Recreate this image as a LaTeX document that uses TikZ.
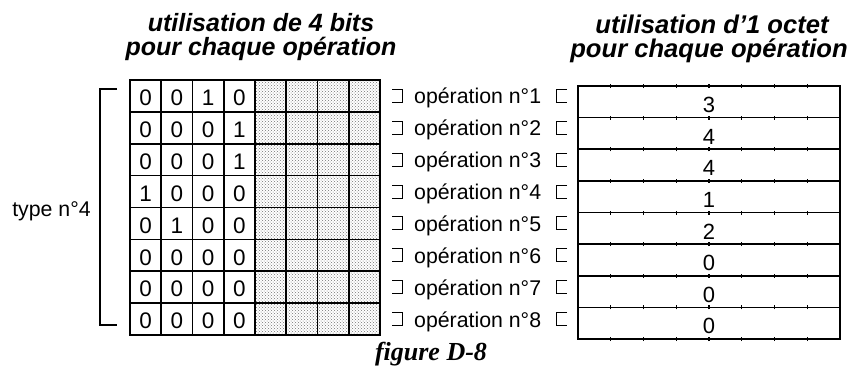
\documentclass[tikz,border=0pt]{standalone}
\usepackage{fontspec}
\usetikzlibrary{patterns}
\setmainfont{Liberation Sans}
\newfontfamily\capfont{Liberation Serif}
\begin{document}
\begin{tikzpicture}[x=1pt,y=-1pt,
  bitcell/.style={draw, line width=1.7pt, outer sep=0pt, inner xsep=0pt, inner ysep=0pt,
    minimum width=31.25pt, minimum height=31.875pt, text height=19.5pt, text depth=0pt,
    font=\fontsize{22.5}{22.5}\selectfont},
  padcell/.style={bitcell, pattern=crosshatch dots, pattern color=black!55},
  bytecell/.style={draw, line width=1.6pt, outer sep=0pt, inner xsep=0pt, inner ysep=0pt,
    minimum width=262pt, minimum height=31.625pt, text height=21.6pt, text depth=0pt,
    font=\fontsize{22}{22}\selectfont},
  tick/.style={line width=1.1pt},
  oplabel/.style={inner sep=0pt, font=\fontsize{21.3}{21.3}\selectfont},
  title/.style={inner sep=0pt, anchor=base, font=\fontsize{25}{25}\selectfont\bfseries\itshape},
  mini/.style={line width=1pt},
  brace/.style={line width=1.3pt}]
\useasboundingbox (0,0) rectangle (856,378);

% headings
\node[title] (t1a) at (261,31) {utilisation de 4 bits};
\node[title] (t1b) at (261,55) {pour chaque opération};
\node[title, font=\fontsize{25.6}{25.6}\selectfont\bfseries\itshape] (t2a) at (712,33) {utilisation d'1 octet};
\node[title, font=\fontsize{25.6}{25.6}\selectfont\bfseries\itshape] (t2b) at (709,57) {pour chaque opération};

% 4-bit grid: used half and unused half
\foreach \r/\bits in {1/{0,0,1,0},2/{0,0,0,1},3/{0,0,0,1},4/{1,0,0,0},
                      5/{0,1,0,0},6/{0,0,0,0},7/{0,0,0,0},8/{0,0,0,0}} {
  \foreach \c in {5,...,8}
    \node[padcell] (b\r-\c) at ({130+31.25*(\c-0.5)},{80+31.875*(\r-0.5)}) {};
  \foreach \b [count=\c] in \bits
    \node[bitcell] (b\r-\c) at ({130+31.25*(\c-0.5)},{80+31.875*(\r-0.5)}) {\b};
}

% operation labels with their small markers
\foreach \r in {1,...,8} {
  \pgfmathsetmacro{\rc}{80+31.875*(\r-0.5)}
  \node[oplabel, anchor=base west] (l\r) at (414,\rc+8) {opération n°\r};
  \draw[mini] (392,\rc-6.5) -| (402,\rc+6.5) -- (392,\rc+6.5);
  \draw[mini] (567,\rc-6.5) -| (556,\rc+6.5) -- (567,\rc+6.5);
}

% one byte per operation
\foreach \v [count=\r] in {3,4,4,1,2,0,0,0}
  \node[bytecell] (o\r) at (709,{86+31.625*(\r-0.5)}) {\v};
\foreach \r in {1,...,8}
  \foreach \k in {1,...,7}
    \draw[tick] ([xshift=\k*32.75pt,yshift=-2pt]o\r.north west) -- ++(0,-4);
\foreach \k in {1,...,7}
  \draw[tick] ([xshift=\k*32.75pt,yshift=-2pt]o8.south west) -- ++(0,-4);

% type bracket
\draw[brace] (117,89) -- (100,89) -- (100,325) -- (117,325);
\node[oplabel] (type) at (51.5,211) {type n°4};

% caption
\node[inner sep=0pt, anchor=base, font=\fontsize{26}{26}\selectfont\capfont\bfseries\itshape] (cap) at (431,360) {figure D-8};
\end{tikzpicture}
\end{document}
